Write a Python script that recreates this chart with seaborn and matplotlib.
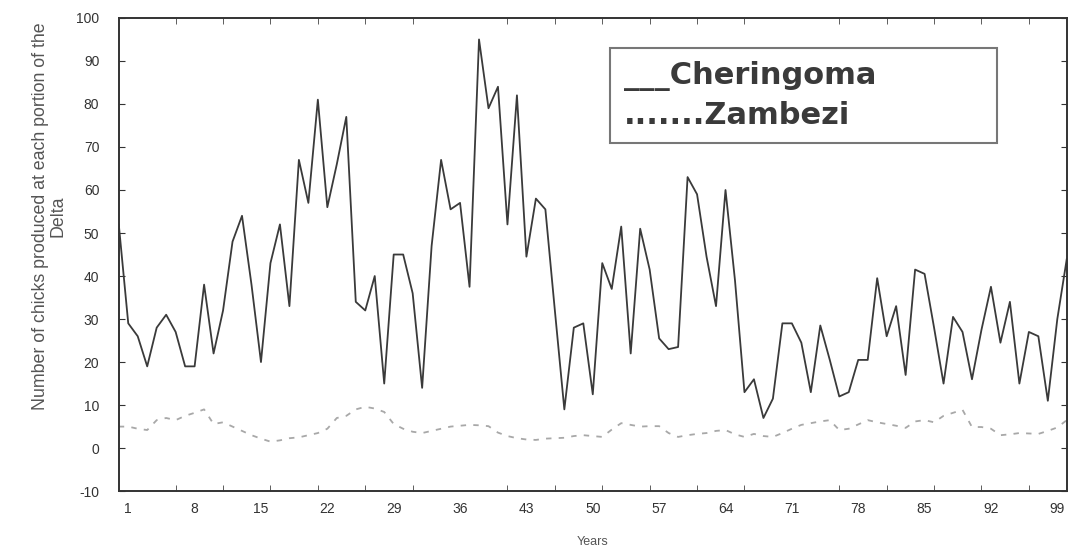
import matplotlib
matplotlib.use("Agg")
import matplotlib.pyplot as plt
import numpy as np
import pandas as pd
import seaborn as sns

# values, one per year (0..100)
cheringoma = [52, 29, 26, 19, 28, 31, 27, 19, 19, 38,
              22, 32, 48, 54, 38, 20, 43, 52, 33, 67,
              57, 81, 56, 66, 77, 34, 32, 40, 15, 45,
              45, 36, 14, 47, 67, 55.5, 57, 37.5, 95, 79,
              84, 52, 82, 44.5, 58, 55.5, 32, 9, 28, 29,
              12.5, 43, 37, 51.5, 22, 51, 41.5, 25.5, 23, 23.5,
              63, 59, 44.5, 33, 60, 39, 13, 16, 7, 11.5,
              29, 29, 24.5, 13, 28.5, 20.5, 12, 13, 20.5, 20.5,
              39.5, 26, 33, 17, 41.5, 40.5, 28, 15, 30.5, 27,
              16, 27.5, 37.5, 24.5, 34, 15, 27, 26, 11, 30,
              44]
zambezi = [5, 5, 4.5, 4.2, 6.5, 7, 6.5, 7.5, 8.2, 9,
           5.6, 6, 5, 4, 3, 2.2, 1.5, 1.8, 2.3, 2.5,
           3, 3.5, 4.5, 7, 7.5, 9, 9.6, 9.2, 8.4, 5.6,
           4.5, 3.8, 3.5, 4, 4.5, 5, 5.2, 5.4, 5.3, 5.1,
           3.6, 2.8, 2.3, 2, 1.9, 2.2, 2.3, 2.4, 2.8, 3,
           2.8, 2.6, 4.3, 5.8, 5.4, 5, 5.1, 5.1, 3.5, 2.6,
           3, 3.3, 3.5, 4, 4.2, 3.2, 2.6, 3.3, 2.8, 2.6,
           3.5, 4.5, 5.4, 5.8, 6.2, 6.5, 4.2, 4.5, 5.5, 6.5,
           6, 5.6, 5.2, 4.7, 6.2, 6.5, 6, 7.5, 8.2, 8.9,
           4.9, 4.9, 4.5, 3, 3.2, 3.5, 3.4, 3.3, 4, 4.8,
           6.5]
years = list(range(len(cheringoma)))
xtick_labels = [1, 8, 15, 22, 29, 36, 43, 50, 57, 64, 71, 78, 85, 92, 99]
ytick_labels = list(range(-10, 101, 10))
legend_labels = ['___Cheringoma', '.......Zambezi']

df = pd.DataFrame({'year': years, 'Cheringoma': cheringoma, 'Zambezi': zambezi})

sns.set_style("white")
plt.rcParams['font.family'] = ['Liberation Sans', 'DejaVu Sans']
plt.rcParams['axes.unicode_minus'] = False

fig = plt.figure(figsize=(10.7, 5.6), dpi=100)
ax = fig.add_axes([0.111, 0.123, 0.886, 0.845])

sns.lineplot(data=df, x='year', y='Cheringoma', ax=ax, color='#3a3a3a',
             linewidth=1.3)
sns.lineplot(data=df, x='year', y='Zambezi', ax=ax, color='#a8a8a8',
             linewidth=1.3)
ax.lines[1].set_dashes([3, 4])

ax.set_xlim(0, 100)
ax.set_ylim(-10, 100)
ax.set_xticks(xtick_labels)
ax.set_xticks(list(range(1, 100, 5)), minor=True)
ax.set_yticks(ytick_labels)
ax.tick_params(axis='x', which='major', length=0, pad=8, labelsize=10, colors='#333333')
ax.tick_params(axis='x', which='minor', direction='in', length=4, top=True, bottom=True, color='#444444')
ax.tick_params(axis='y', which='major', direction='in', length=4, left=True, right=True,
               labelsize=10, colors='#333333', pad=14)
for s in ax.spines.values():
    s.set_color('#333333')
    s.set_linewidth(1.4)

ax.set_xlabel('Years', fontsize=9, color='#555555', labelpad=14)
ax.set_ylabel('Number of chicks produced at each portion of the\nDelta', fontsize=12.8,
              color='#555555', linespacing=1.05)
ax.yaxis.set_label_coords(-0.055, 0.58)

leg = ax.legend(ax.lines[:2], legend_labels, loc='upper left',
                bbox_to_anchor=(0.518, 0.731, 0.408, 0.206),
                mode='expand', handlelength=0, handletextpad=0, frameon=True,
                fancybox=False, borderpad=0.45, labelspacing=0.3, borderaxespad=0,
                prop={'family': 'DejaVu Sans', 'weight': 'bold', 'size': 22})
leg.get_frame().set_edgecolor('#555555')
leg.get_frame().set_linewidth(1.5)
for t in leg.get_texts():
    t.set_color('#3a3a3a')

fig.savefig('out.png', dpi=100)
